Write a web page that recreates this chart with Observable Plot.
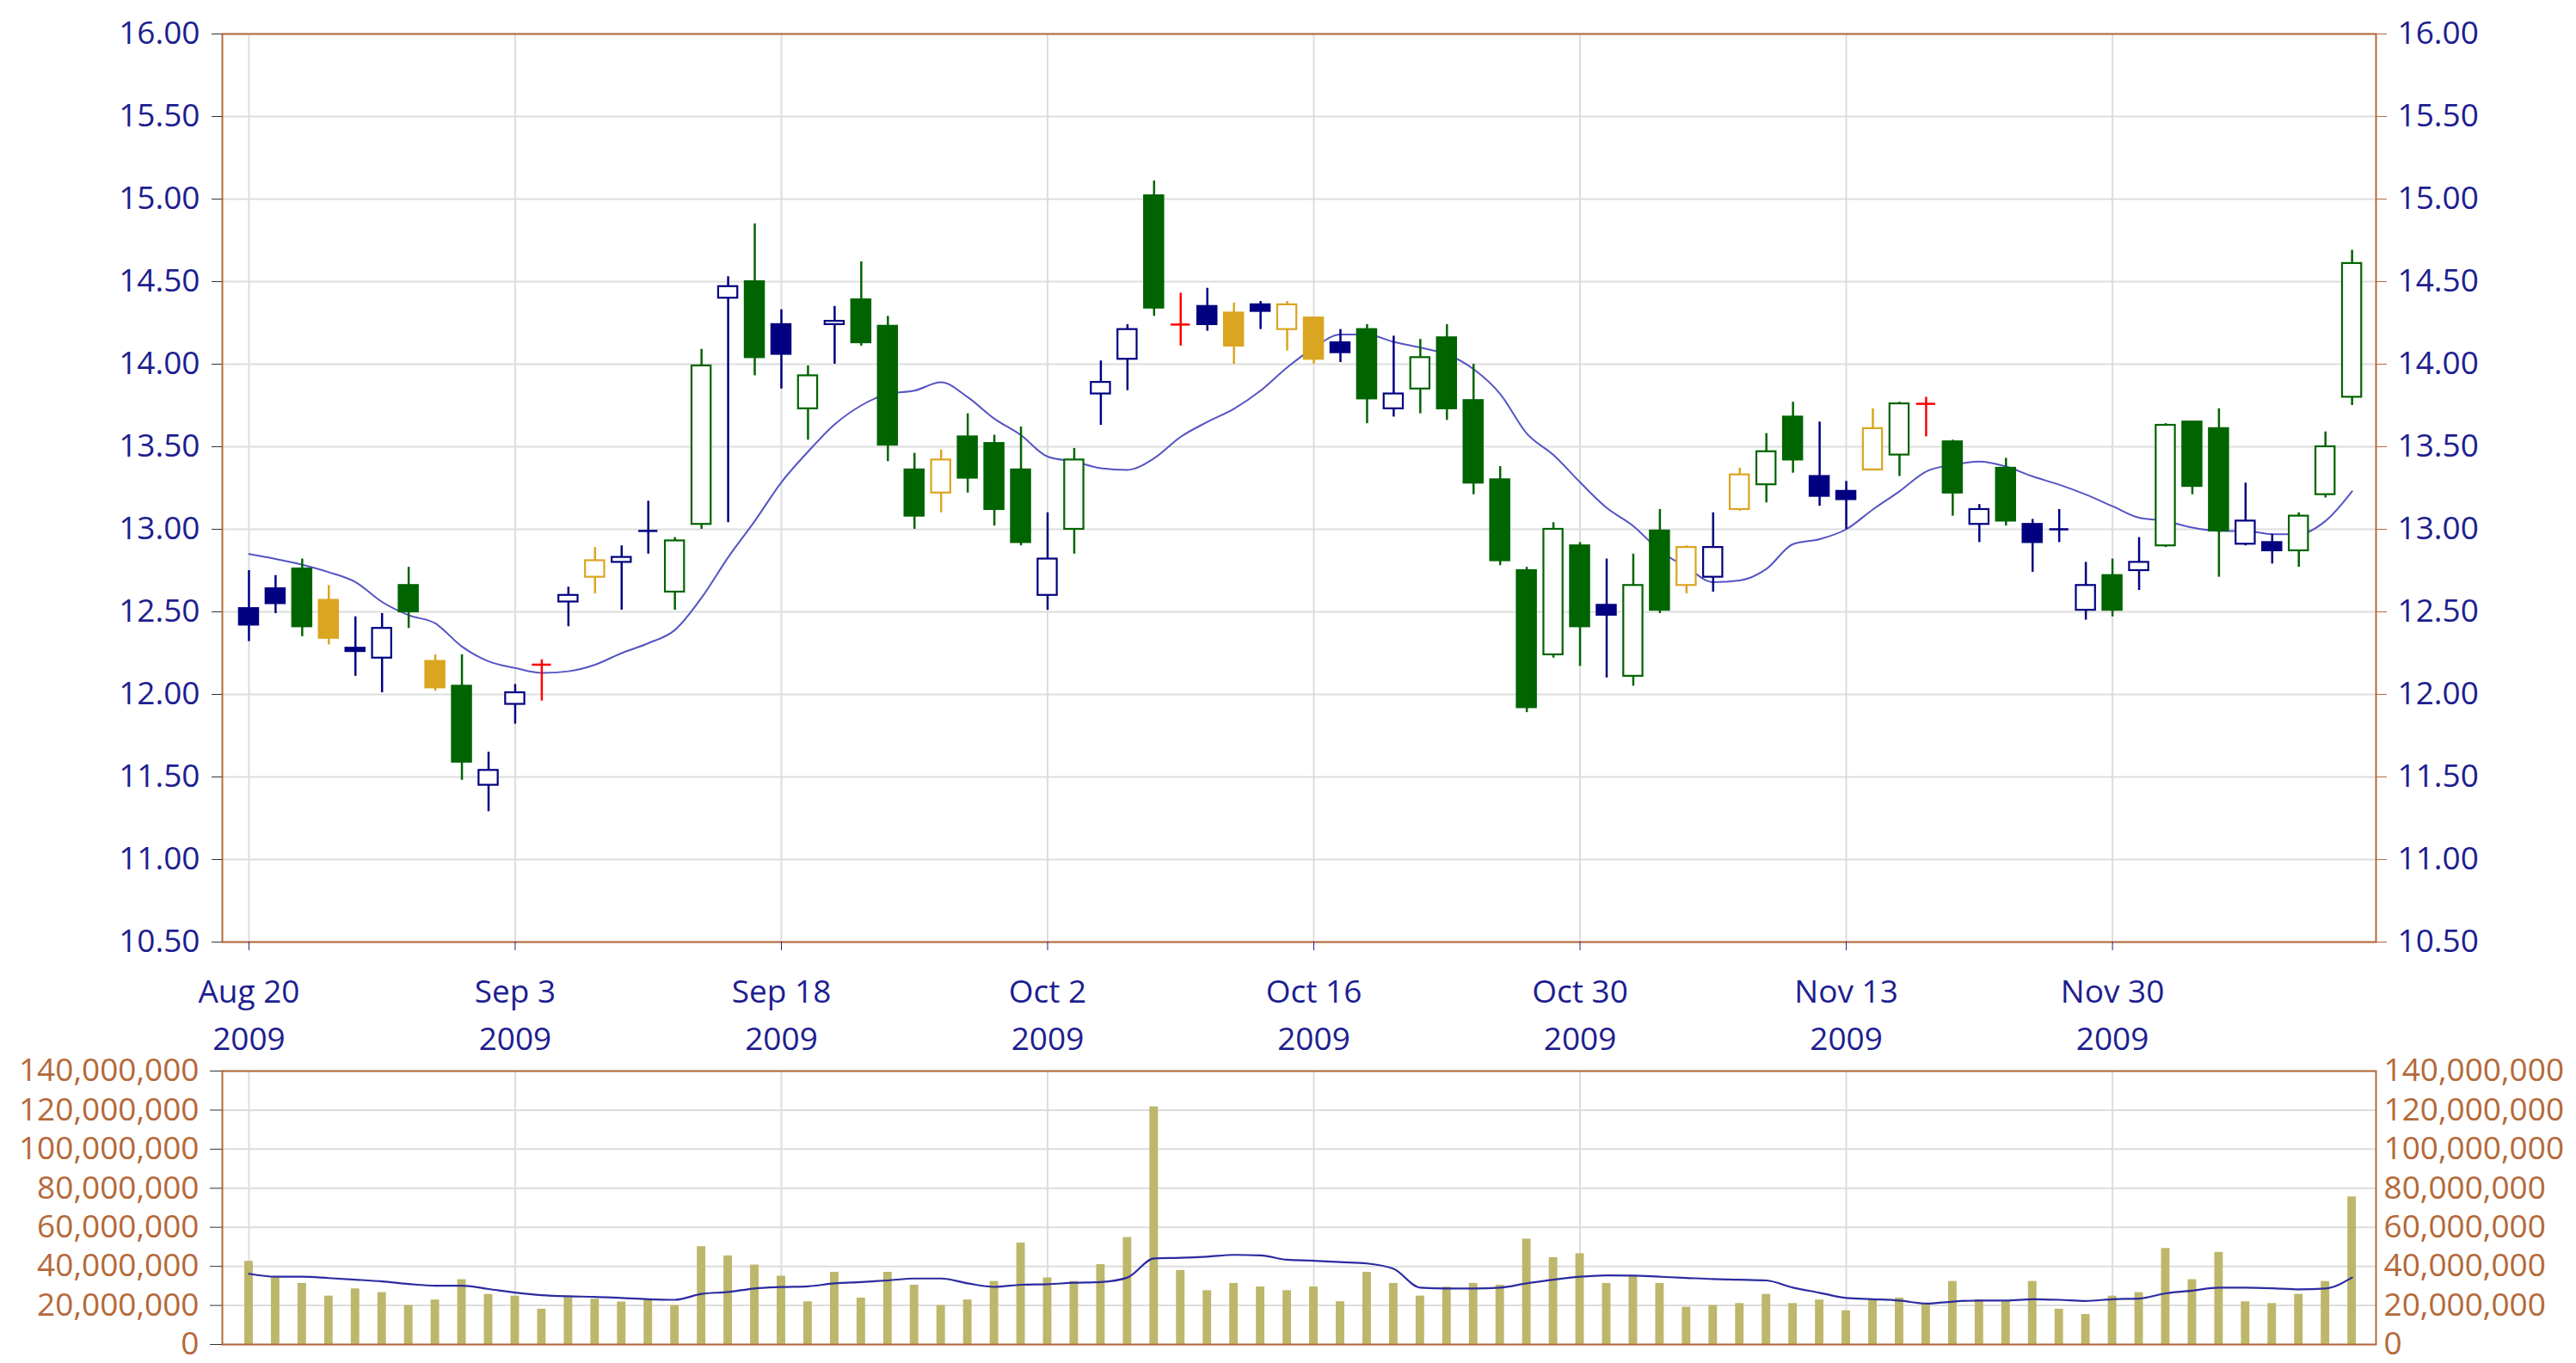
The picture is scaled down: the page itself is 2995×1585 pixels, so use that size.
<!DOCTYPE html>
<html><head><meta charset="utf-8">
<script src="https://cdn.jsdelivr.net/npm/d3@7"></script>
<script src="https://cdn.jsdelivr.net/npm/@observablehq/plot@0.6"></script>
<style>
html,body{margin:0;padding:0;background:#fff;}
#wrap{position:relative;width:2995px;height:1585px;overflow:hidden;background:#fff;}
#wrap svg{position:absolute;left:0;max-width:none;background:transparent;overflow:visible;}
</style></head><body><div id="wrap"></div>
<script>
const dates = ["2009-08-20","2009-08-21","2009-08-24","2009-08-25","2009-08-26","2009-08-27","2009-08-28","2009-08-31","2009-09-01","2009-09-02",
"2009-09-03","2009-09-04","2009-09-08","2009-09-09","2009-09-10","2009-09-11","2009-09-14","2009-09-15","2009-09-16","2009-09-17",
"2009-09-18","2009-09-21","2009-09-22","2009-09-23","2009-09-24","2009-09-25","2009-09-28","2009-09-29","2009-09-30","2009-10-01",
"2009-10-02","2009-10-05","2009-10-06","2009-10-07","2009-10-08","2009-10-09","2009-10-12","2009-10-13","2009-10-14","2009-10-15",
"2009-10-16","2009-10-19","2009-10-20","2009-10-21","2009-10-22","2009-10-23","2009-10-26","2009-10-27","2009-10-28","2009-10-29",
"2009-10-30","2009-11-02","2009-11-03","2009-11-04","2009-11-05","2009-11-06","2009-11-09","2009-11-10","2009-11-11","2009-11-12",
"2009-11-13","2009-11-16","2009-11-17","2009-11-18","2009-11-19","2009-11-20","2009-11-23","2009-11-24","2009-11-25","2009-11-27",
"2009-11-30","2009-12-01","2009-12-02","2009-12-03","2009-12-04","2009-12-07","2009-12-08","2009-12-09","2009-12-10","2009-12-11"];

const openP = [12.52,12.64,12.76,12.57,12.28,12.22,12.66,12.20,12.05,11.45,
11.94,12.18,12.56,12.71,12.80,12.99,12.62,13.03,14.40,14.50,
14.24,13.73,14.24,14.39,14.23,13.36,13.22,13.56,13.52,13.36,
12.60,13.00,13.82,14.03,15.02,14.24,14.35,14.31,14.36,14.21,
14.28,14.13,14.21,13.73,13.85,14.16,13.78,13.30,12.75,12.24,
12.90,12.54,12.11,12.99,12.66,12.71,13.12,13.27,13.68,13.32,
13.23,13.36,13.45,13.76,13.53,13.03,13.37,13.03,13.00,12.51,
12.72,12.75,12.90,13.65,13.61,12.91,12.92,12.87,13.21,13.80];
const highP = [12.75,12.72,12.82,12.66,12.47,12.49,12.77,12.24,12.24,11.65,
12.06,12.21,12.65,12.89,12.90,13.17,12.95,14.09,14.53,14.85,
14.33,13.99,14.35,14.62,14.29,13.46,13.48,13.70,13.57,13.62,
13.10,13.49,14.02,14.24,15.11,14.43,14.46,14.37,14.38,14.38,
14.28,14.21,14.24,14.17,14.15,14.24,14.00,13.38,12.77,13.04,
12.92,12.82,12.85,13.12,12.90,13.10,13.37,13.58,13.77,13.65,
13.29,13.73,13.77,13.80,13.54,13.15,13.43,13.06,13.12,12.80,
12.82,12.95,13.64,13.65,13.73,13.28,12.97,13.10,13.59,14.69];
const lowP = [12.32,12.49,12.35,12.30,12.11,12.01,12.40,12.02,11.48,11.29,
11.82,11.96,12.41,12.61,12.51,12.85,12.51,13.00,13.04,13.93,
13.85,13.54,14.00,14.11,13.41,13.00,13.10,13.22,13.02,12.90,
12.51,12.85,13.63,13.84,14.29,14.11,14.20,14.00,14.21,14.08,
14.00,14.01,13.64,13.68,13.70,13.66,13.21,12.78,11.89,12.22,
12.17,12.10,12.05,12.49,12.61,12.62,13.11,13.16,13.34,13.14,
13.00,13.36,13.32,13.56,13.08,12.92,13.02,12.74,12.92,12.45,
12.47,12.63,12.89,13.21,12.71,12.90,12.79,12.77,13.19,13.75];
const closeP = [12.42,12.55,12.41,12.34,12.26,12.40,12.50,12.04,11.59,11.54,
12.01,12.18,12.60,12.81,12.83,12.99,12.93,13.99,14.47,14.04,
14.06,13.93,14.26,14.13,13.51,13.08,13.42,13.31,13.12,12.92,
12.82,13.42,13.89,14.21,14.34,14.24,14.24,14.11,14.32,14.36,
14.03,14.07,13.79,13.82,14.04,13.73,13.28,12.81,11.92,13.00,
12.41,12.48,12.66,12.51,12.89,12.89,13.33,13.47,13.42,13.20,
13.18,13.61,13.76,13.76,13.22,13.12,13.05,12.92,13.00,12.66,
12.51,12.80,13.63,13.26,12.99,13.05,12.87,13.08,13.50,14.61];
const candleColor = ["navy","navy","green","gold","navy","navy","green","gold","green","navy",
"navy","red","navy","gold","navy","navy","green","green","navy","green",
"navy","green","navy","green","green","green","gold","green","green","green",
"navy","green","navy","navy","green","red","navy","gold","navy","gold",
"gold","navy","green","navy","green","green","green","green","green","green",
"green","navy","green","green","gold","navy","gold","green","green","navy",
"navy","gold","green","red","green","navy","green","navy","navy","navy",
"green","navy","green","green","green","navy","navy","green","green","green"];
const priceMA = [12.85,12.82,12.785,12.74,12.68,12.56,12.48,12.43,12.29,12.20,
12.16,12.13,12.14,12.18,12.25,12.31,12.39,12.585,12.83,13.05,
13.285,13.47,13.635,13.75,13.82,13.84,13.89,13.80,13.67,13.57,
13.44,13.41,13.37,13.36,13.43,13.56,13.65,13.73,13.84,13.98,
14.10,14.18,14.18,14.135,14.10,14.06,13.97,13.82,13.58,13.45,
13.285,13.13,13.02,12.87,12.77,12.68,12.69,12.76,12.91,12.94,
13.00,13.12,13.23,13.35,13.39,13.41,13.38,13.32,13.27,13.21,
13.14,13.07,13.05,13.01,12.99,12.99,12.97,12.97,13.05,13.23];
const volumeM = [42.6,34.3,31.3,24.8,28.5,26.6,20.0,22.8,33.2,25.7,
24.8,18.1,24.1,23.2,21.8,22.8,20.0,50.1,45.4,40.7,
35.0,21.9,37.0,23.8,37.0,30.4,20.0,22.8,32.3,52.0,
34.1,32.3,40.9,54.8,121.7,37.9,27.6,31.3,29.5,27.6,
29.5,21.9,37.0,31.3,24.8,29.4,31.3,30.4,54.0,44.5,
46.5,31.3,35.0,31.3,19.1,20.0,21.0,25.7,21.0,22.8,
17.3,22.9,23.8,21.0,32.3,22.9,21.9,32.3,18.1,15.4,
24.8,26.6,49.2,33.2,47.2,21.9,21.0,25.7,32.3,75.6];
const volumeMA_M = [36.2,34.7,34.7,34.0,33.2,32.3,31.0,30.1,30.1,28.4,
26.6,25.3,24.7,24.4,23.8,23.2,22.9,25.9,26.9,28.7,
29.4,29.8,31.3,32.0,32.8,33.8,33.8,31.3,29.5,30.6,
30.9,31.6,32.0,34.3,44.1,44.4,45.0,45.9,45.6,43.4,
42.9,42.2,41.5,38.7,29.1,28.7,28.7,29.1,31.3,33.2,
34.7,35.4,35.3,34.7,34.1,33.5,33.2,32.8,29.1,26.5,
23.8,23.2,22.5,21.0,22.0,22.5,22.5,23.2,22.9,22.3,
23.2,23.5,26.2,27.6,29.1,29.1,28.8,28.2,28.7,34.3];

const priceTicks = [10.5,11,11.5,12,12.5,13,13.5,14,14.5,15,15.5,16];
const volumeTicks = [0,20000000,40000000,60000000,80000000,100000000,120000000,140000000];
const dateTickIdx = [0,10,20,30,40,50,60,70];

const palette = {navy:"#000080", green:"#006400", gold:"#daa520", red:"#ff0000"};
const NAVY_TEXT = "#1e1e90";
const BROWN = "#b4693a";
const GRID = "#dddddd";
const FONT = "'Open Sans', 'Noto Sans', sans-serif";

const rows = dates.map((d, i) => ({
  i, date: d, open: openP[i], high: highP[i], low: lowP[i], close: closeP[i],
  col: palette[candleColor[i]], ma: priceMA[i],
  vol: volumeM[i] * 1e6, vma: volumeMA_M[i] * 1e6
}));

const fmtDate = i => {
  const d = new Date(dates[i] + "T00:00:00");
  return d3.timeFormat("%b %-d")(d) + "\n" + d.getFullYear();
};

const W = 2995;
const xDomain = [-1, 79.9];
const half = 0.36;

const main = Plot.plot({
  width: W, height: 1232,
  marginTop: 39, marginLeft: 258, marginRight: 233, marginBottom: 137,
  style: {fontFamily: FONT, fontSize: "37px", background: "transparent", top: "0px", overflow: "visible"},
  x: {domain: xDomain, axis: null, label: null},
  y: {domain: [10.5, 16], axis: null, label: null},
  color: {type: "identity"},
  marks: [
    Plot.gridY(priceTicks, {stroke: GRID, strokeOpacity: 1, strokeWidth: 2}),
    Plot.gridX(dateTickIdx, {stroke: GRID, strokeOpacity: 1, strokeWidth: 2}),
    Plot.line(rows, {x: "i", y: "ma", stroke: "#5454c4", strokeWidth: 2, curve: "monotone-x"}),
    Plot.ruleX(rows, {x: "i", y1: "low", y2: "high", stroke: "col", strokeWidth: 2.5}),
    Plot.rect(rows.filter(d => d.open !== d.close), {
      x1: d => d.i - half, x2: d => d.i + half, y1: "open", y2: "close",
      fill: d => d.close < d.open ? d.col : "white", stroke: "col", strokeWidth: 2.2
    }),
    Plot.ruleY(rows.filter(d => d.open === d.close), {
      y: "open", x1: d => d.i - half, x2: d => d.i + half, stroke: "col", strokeWidth: 2.5
    }),
    Plot.frame({stroke: BROWN, strokeWidth: 2}),
    Plot.axisY(priceTicks, {anchor: "left", tickFormat: d3.format(".2f"), tickSize: 12, tickPadding: 14,
      stroke: "#333", fill: NAVY_TEXT, label: null, fontSize: 37}),
    Plot.axisY(priceTicks, {anchor: "right", tickFormat: d3.format(".2f"), tickSize: 12, tickPadding: 13,
      stroke: BROWN, fill: NAVY_TEXT, label: null, fontSize: 37}),
    Plot.axisX(dateTickIdx, {anchor: "bottom", tickFormat: fmtDate, tickSize: 10, tickPadding: 21,
      stroke: NAVY_TEXT, fill: NAVY_TEXT, label: null, lineHeight: 1.5, fontSize: 37})
  ]
});

const vol = Plot.plot({
  width: W, height: 353,
  marginTop: 13, marginLeft: 258, marginRight: 233, marginBottom: 22,
  style: {fontFamily: FONT, fontSize: "37px", background: "transparent", top: "1232px", overflow: "visible"},
  x: {domain: xDomain, axis: null, label: null},
  y: {domain: [0, 140000000], axis: null, label: null},
  marks: [
    Plot.gridY(volumeTicks, {stroke: GRID, strokeOpacity: 1, strokeWidth: 2}),
    Plot.gridX(dateTickIdx, {stroke: GRID, strokeOpacity: 1, strokeWidth: 2}),
    Plot.rectY(rows, {x1: d => d.i - 0.16, x2: d => d.i + 0.16, y: "vol", fill: "#bdb76b"}),
    Plot.line(rows, {x: "i", y: "vma", stroke: "#2b2ba0", strokeWidth: 2.2, curve: "monotone-x"}),
    Plot.frame({stroke: BROWN, strokeWidth: 2}),
    Plot.axisY(volumeTicks, {anchor: "left", tickFormat: d3.format(","), tickSize: 14, tickPadding: 13,
      stroke: "#333", fill: BROWN, label: null, fontSize: 37}),
    Plot.axisY(volumeTicks, {anchor: "right", tickFormat: d3.format(","), tickSize: 0, tickPadding: 9,
      fill: BROWN, label: null, fontSize: 37})
  ]
});

const wrap = document.getElementById("wrap");
wrap.appendChild(main);
wrap.appendChild(vol);
</script></body></html>
